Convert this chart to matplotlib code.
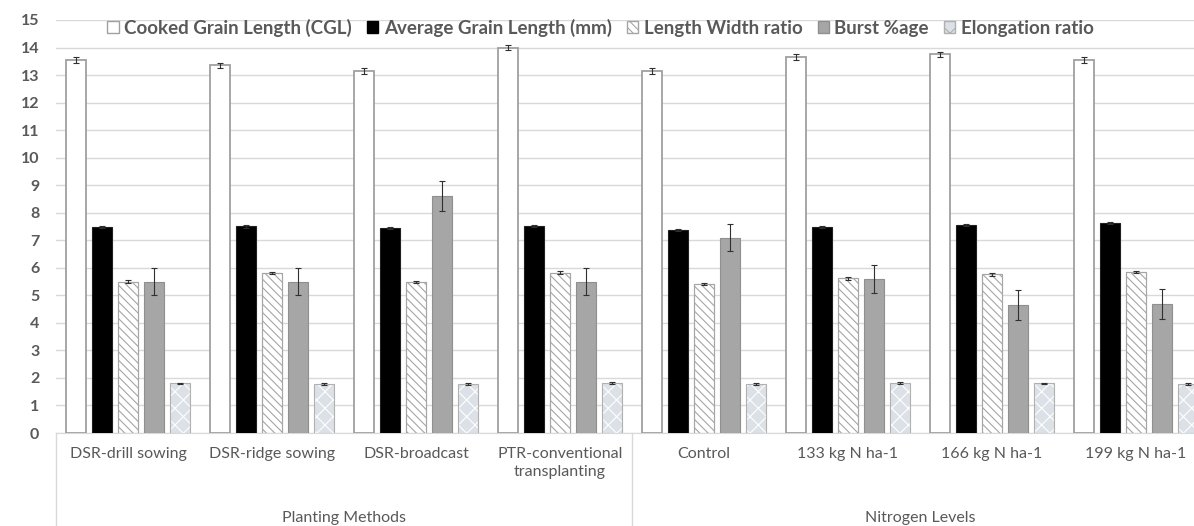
import numpy as np
import matplotlib
matplotlib.use("Agg")
import matplotlib.pyplot as plt
from matplotlib.patches import Patch
from matplotlib.transforms import blended_transform_factory

plt.rcParams['font.family'] = ['Lato', 'DejaVu Sans']
plt.rcParams['hatch.linewidth'] = 0.8

# data
categories = ["DSR-drill sowing", "DSR-ridge sowing", "DSR-broadcast",
              "PTR-conventional\ntransplanting", "Control", "133 kg N ha-1",
              "166 kg N ha-1", "199 kg N ha-1"]
group_names = ["Planting Methods", "Nitrogen Levels"]
group_sizes = [4, 4]

series = ["Cooked Grain Length (CGL)", "Average Grain Length (mm)",
          "Length Width ratio", "Burst %age", "Elongation ratio"]
cgl = [13.55, 13.35, 13.15, 14.0, 13.15, 13.65, 13.75, 13.55]
agl = [7.48, 7.5, 7.44, 7.51, 7.37, 7.48, 7.55, 7.62]
lw_ratio = [5.5, 5.8, 5.48, 5.82, 5.42, 5.62, 5.77, 5.85]
burst = [5.5, 5.5, 8.6, 5.5, 7.1, 5.6, 4.65, 4.68]
elong = [1.8, 1.78, 1.77, 1.82, 1.78, 1.82, 1.8, 1.78]

cgl_err = [0.1, 0.1, 0.1, 0.1, 0.1, 0.1, 0.1, 0.1]
agl_err = [0.04, 0.04, 0.04, 0.04, 0.04, 0.04, 0.04, 0.04]
lw_err = [0.05, 0.04, 0.04, 0.05, 0.04, 0.05, 0.05, 0.04]
burst_err = [0.48, 0.5, 0.55, 0.5, 0.5, 0.5, 0.55, 0.55]
elong_err = [0.03, 0.03, 0.03, 0.03, 0.03, 0.03, 0.03, 0.03]

values = [cgl, agl, lw_ratio, burst, elong]
errors = [cgl_err, agl_err, lw_err, burst_err, elong_err]

text_col = '#595959'
grid_col = '#d9d9d9'

fig = plt.figure(figsize=(11.94, 5.26), dpi=100)
ax = fig.add_axes([0.0469, 0.1768, 0.9648, 0.7852])

x = np.arange(len(categories)) + 0.5
step = 0.18
width = 0.139

styles = [
    dict(color='white', edgecolor='#a0a0a0', linewidth=1.3),
    dict(color='black', edgecolor='#202020', linewidth=0.8),
    dict(color='white', edgecolor='#a6a6a6', hatch='\\\\\\\\', linewidth=0.8),
    dict(color='#a6a6a6', edgecolor='#8f8f8f', linewidth=0.8),
    dict(color='#dce1e7', edgecolor='white', hatch='xx', linewidth=0),
]

for k, (vals, errs, st) in enumerate(zip(values, errors, styles)):
    pos = x + (k - 2) * step
    ax.bar(pos, vals, width, zorder=3, **st)
    if k == 4:
        ax.bar(pos, vals, width, fill=False, edgecolor='#b0b0b0',
               linewidth=0.8, zorder=3)
    if k == 2:
        ax.bar(pos, vals, width, fill=False, edgecolor='#a6a6a6',
               linewidth=0.8, zorder=3)
    ax.errorbar(pos, vals, yerr=errs, fmt='none', ecolor='#303030',
                elinewidth=0.8, capsize=2.2, capthick=0.8, zorder=4)

ax.set_xlim(0, len(categories))
ax.set_ylim(0, 15)
ax.set_yticks(range(0, 16))
ax.yaxis.grid(True, color=grid_col, linewidth=1, zorder=0)
ax.set_axisbelow(True)
for s in ['top', 'right', 'left']:
    ax.spines[s].set_visible(False)
ax.spines['bottom'].set_color(grid_col)
ax.tick_params(axis='y', length=0, pad=12, labelsize=11.5, labelcolor=text_col)
ax.tick_params(axis='x', length=0, pad=10, labelsize=11.5, labelcolor=text_col)
for t in ax.get_yticklabels():
    t.set_fontweight('bold')
ax.set_xticks(x)
ax.set_xticklabels(categories, linespacing=1.35)

# multi-level category axis
trans = blended_transform_factory(ax.transData, ax.transAxes)
edges = np.concatenate([[0], np.cumsum(group_sizes)])
for e in edges:
    ax.plot([e, e], [0, -0.23], transform=trans, color=grid_col,
            linewidth=1, clip_on=False)
for name, a, b in zip(group_names, edges[:-1], edges[1:]):
    ax.text((a + b) / 2, -0.205, name, transform=trans, ha='center',
            va='center', fontsize=11.5, color=text_col)

handles = [Patch(facecolor='white', edgecolor='#a0a0a0'),
           Patch(facecolor='black', edgecolor='black'),
           Patch(facecolor='white', edgecolor='#a6a6a6', hatch='\\\\\\\\'),
           Patch(facecolor='#a6a6a6', edgecolor='#8f8f8f'),
           Patch(facecolor='#dce1e7', edgecolor='#b0b0b0', hatch='xx')]
leg = fig.legend(handles, series, loc='center', bbox_to_anchor=(0.503, 0.947),
                 ncol=5, frameon=False, handlelength=0.6, handleheight=0.6,
                 handletextpad=0.3, columnspacing=0.8,
                 prop={'size': 13.5, 'weight': 'bold'})
for t in leg.get_texts():
    t.set_color(text_col)

fig.savefig('out.png', dpi=100)
